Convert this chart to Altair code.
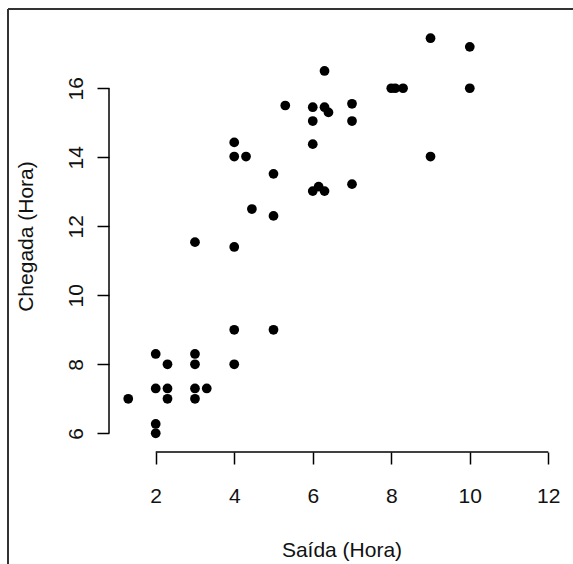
import altair as alt
import pandas as pd

# Departure (Saída) and arrival (Chegada) hours
saida = [9.0, 10.0, 6.3, 8.0, 8.1, 8.3, 10.0, 5.3, 6.0, 6.3, 6.4, 7.0, 6.0, 7.0,
         4.0, 6.0, 4.0, 4.3, 9.0, 5.0, 6.0, 6.15, 6.3, 7.0, 4.45, 5.0, 3.0, 4.0,
         4.0, 5.0, 2.0, 3.0, 2.3, 3.0, 4.0, 1.3, 2.0, 2.3, 2.3, 3.0, 3.3, 3.0,
         2.0, 2.0]
chegada = [17.45, 17.2, 16.5, 16.0, 16.0, 16.0, 16.0, 15.5, 15.45, 15.45, 15.3, 15.55, 15.05, 15.05,
           14.43, 14.38, 14.02, 14.02, 14.02, 13.52, 13.02, 13.15, 13.02, 13.22, 12.5, 12.3, 11.54, 11.4,
           9.0, 9.0, 8.3, 8.3, 8.0, 8.0, 8.0, 7.0, 7.3, 7.3, 7.0, 7.3, 7.3, 7.0,
           6.27, 6.0]

x_ticks = [2, 4, 6, 8, 10, 12]
y_ticks = [6, 8, 10, 12, 14, 16]

x_title = "Saída (Hora)"
y_title = "Chegada (Hora)"

df = pd.DataFrame({"saida": saida, "chegada": chegada})

FONT = "Liberation Sans"
W, H = 455, 430
x_dom = [0.81, 12.40]
y_dom = [5.458, 17.92]

xscale = alt.Scale(domain=x_dom, nice=False, zero=False)
yscale = alt.Scale(domain=y_dom, nice=False, zero=False)

points = alt.Chart(df).mark_circle(size=95, color="black", opacity=1).encode(
    x=alt.X("saida:Q", scale=xscale,
            axis=alt.Axis(values=x_ticks, title=x_title, domain=False, grid=False,
                          tickSize=12, tickWidth=1.5, tickColor="black",
                          labelFont=FONT, labelFontSize=21, labelColor="#111",
                          labelPadding=21.5, labelFlush=False, labelOverlap=False,
                          titleFont=FONT, titleFontSize=21, titleFontWeight="normal",
                          titleColor="#111", titleX=232.5, titleY=104,
                          titleAlign="center", titleBaseline="alphabetic")),
    y=alt.Y("chegada:Q", scale=yscale,
            axis=alt.Axis(values=y_ticks, title=y_title, domain=False, grid=False,
                          tickSize=12, tickWidth=1.5, tickColor="black",
                          labelFont=FONT, labelFontSize=21, labelColor="#111",
                          labelAngle=270, labelAlign="center", labelBaseline="alphabetic",
                          labelPadding=15, labelFlush=False, labelOverlap=False,
                          titleFont=FONT, titleFontSize=21, titleFontWeight="normal",
                          titleColor="#111", titleAngle=270, titleX=-77, titleY=214,
                          titleAlign="center", titleBaseline="alphabetic")),
)

xaxis_df = pd.DataFrame({"x": [min(x_ticks)], "x2": [max(x_ticks)]})
yaxis_df = pd.DataFrame({"y": [min(y_ticks)], "y2": [max(y_ticks)]})

x_line = alt.Chart(xaxis_df).mark_rule(color="black", strokeWidth=1.5).encode(
    x=alt.X("x:Q", scale=xscale), x2="x2:Q", y=alt.value(H))
y_line = alt.Chart(yaxis_df).mark_rule(color="black", strokeWidth=1.5).encode(
    y=alt.Y("y:Q", scale=yscale), y2="y2:Q", x=alt.value(0))

# outer frame (top and left edges of the image border)
frame_top = alt.Chart(xaxis_df).mark_rule(color="#333", strokeWidth=2).encode(
    x=alt.value(-101), x2=alt.value(573 - 109), y=alt.value(-13))
frame_left = alt.Chart(xaxis_df).mark_rule(color="#333", strokeWidth=2).encode(
    x=alt.value(-101), y=alt.value(-13), y2=alt.value(564 - 22))

chart = alt.layer(frame_top, frame_left, x_line, y_line, points).properties(
    width=W, height=H,
    autosize=alt.AutoSizeParams(type="none"),
    padding={"left": 109, "top": 22, "right": 9, "bottom": 112},
    background="white",
).configure_view(stroke=None)

chart.save("out.html", embed_options={"renderer": "svg", "actions": False})
